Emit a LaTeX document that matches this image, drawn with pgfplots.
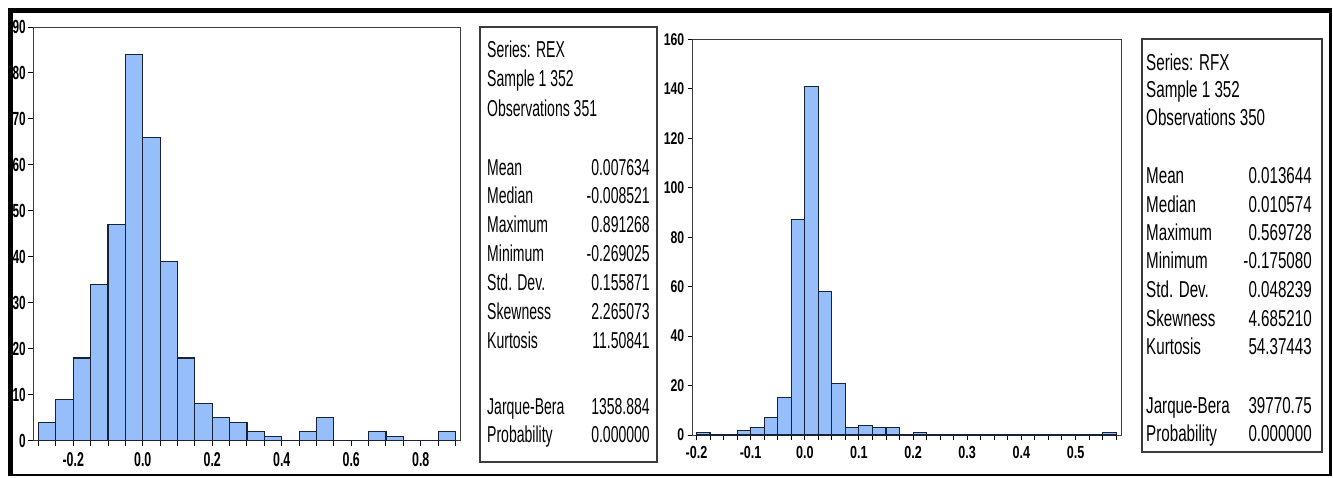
\documentclass[border=0pt]{standalone}
\usepackage{pgfplots}
\pgfplotsset{compat=1.18}
\usepackage{fontspec}
\setmainfont{Liberation Sans}
\newfontfamily\statsLfont[FakeStretch=0.61]{Liberation Sans}
\newfontfamily\statsRfont[FakeStretch=0.66]{Liberation Sans}
\newfontfamily\tickLfont[FakeStretch=0.62]{Liberation Sans}
\newfontfamily\tickRfont[FakeStretch=0.72]{Liberation Sans}
\definecolor{barfill}{RGB}{150,190,250}
\definecolor{baredge}{RGB}{25,35,55}
\definecolor{framecol}{RGB}{60,60,60}

\pgfplotsset{
  histo/.style={
    scale only axis,
    anchor=north west,
    tick pos=left,
    tick align=outside,
    major tick length=5pt,
    minor tick length=5pt,
    tick style={black, line width=1pt},
    axis line style={framecol, line width=1pt},
  },
}

\begin{document}
\begin{tikzpicture}
\fill[white] (0,0) rectangle (1333pt,-477pt);
\path[use as bounding box] (0,0) rectangle (1333pt,-477pt);

% ---------- left histogram (REX) ----------
\begin{axis}[histo,
  width=426.7pt, height=413.7pt, at={(33.3pt,-27pt)},
  xmin=-0.315, xmax=0.913, ymin=0, ymax=90,
  xtick={-0.2,0,0.2,0.4,0.6,0.8},
  xticklabels={-0.2,0.0,0.2,0.4,0.6,0.8},
  minor xtick={-0.3,-0.25,-0.15,-0.1,-0.05,0.05,0.1,0.15,0.25,0.3,0.35,0.45,0.5,0.55,0.65,0.7,0.75,0.85,0.9},
  ytick={0,10,20,30,40,50,60,70,80,90},
  yticklabels={0,10,20,30,40,50,60,70,80,90},
  xticklabel style={font=\tickLfont\bfseries\fontsize{20}{20}\selectfont, yshift=-3pt},
  yticklabel style={font=\tickLfont\bfseries\fontsize{19}{19}\selectfont, xshift=1pt},
]
\addplot[ybar interval, fill=barfill, draw=baredge, line width=1.1pt] coordinates {
(-0.30,4) (-0.25,9) (-0.20,18) (-0.15,34) (-0.10,47) (-0.05,84)
(0.00,66) (0.05,39) (0.10,18) (0.15,8) (0.20,5) (0.25,4)
(0.30,2) (0.35,1) (0.40,0) (0.45,2) (0.50,5) (0.55,0)
(0.60,0) (0.65,2) (0.70,1) (0.75,0) (0.80,0) (0.85,2) (0.90,0)
};
\end{axis}

% ---------- right histogram (RFX) ----------
\begin{axis}[histo,
  width=428.3pt, height=395.7pt, at={(692.7pt,-39.3pt)},
  xmin=-0.207, xmax=0.584, ymin=0, ymax=160,
  xtick={-0.2,-0.1,0,0.1,0.2,0.3,0.4,0.5},
  xticklabels={-0.2,-0.1,0.0,0.1,0.2,0.3,0.4,0.5},
  minor xtick={-0.175,-0.15,-0.125,-0.075,-0.05,-0.025,0.025,0.05,0.075,0.125,0.15,0.175,0.225,0.25,0.275,0.325,0.35,0.375,0.425,0.45,0.475,0.525,0.55,0.575},
  ytick={0,20,40,60,80,100,120,140,160},
  yticklabels={0,20,40,60,80,100,120,140,160},
  xticklabel style={font=\tickRfont\bfseries\fontsize{17.5}{17.5}\selectfont, yshift=-3pt},
  yticklabel style={font=\tickRfont\bfseries\fontsize{17}{17}\selectfont},
]
\addplot[ybar interval, fill=barfill, draw=baredge, line width=1.1pt] coordinates {
(-0.200,1) (-0.175,0) (-0.150,0) (-0.125,2) (-0.100,3) (-0.075,7)
(-0.050,15) (-0.025,87) (0.000,141) (0.025,58) (0.050,21) (0.075,3)
(0.100,4) (0.125,3) (0.150,3) (0.175,0) (0.200,1) (0.225,0)
(0.250,0) (0.275,0) (0.300,0) (0.325,0) (0.350,0) (0.375,0)
(0.400,0) (0.425,0) (0.450,0) (0.475,0) (0.500,0) (0.525,0)
(0.550,1) (0.575,0)
};
\end{axis}

% ---------- left statistics box ----------
\draw[framecol, line width=1.2pt] (480pt,-27pt) rectangle (657pt,-462pt);
\begin{scope}[every node/.style={inner sep=0pt, font=\statsLfont\fontsize{23}{23}\selectfont}]
\node[anchor=base west] at (487pt,-57pt) {Series: REX};
\node[anchor=base west] at (487pt,-86pt) {Sample 1 352};
\node[anchor=base west] at (487pt,-116pt) {Observations 351};
\node[anchor=base west] at (487pt,-175pt) {Mean};
\node[anchor=base east] at (650pt,-175pt) {0.007634};
\node[anchor=base west] at (487pt,-203.5pt) {Median};
\node[anchor=base east] at (650pt,-203.5pt) {-0.008521};
\node[anchor=base west] at (487pt,-232pt) {Maximum};
\node[anchor=base east] at (650pt,-232pt) {0.891268};
\node[anchor=base west] at (487pt,-261pt) {Minimum};
\node[anchor=base east] at (650pt,-261pt) {-0.269025};
\node[anchor=base west] at (487pt,-290pt) {Std. Dev.};
\node[anchor=base east] at (650pt,-290pt) {0.155871};
\node[anchor=base west] at (487pt,-319pt) {Skewness};
\node[anchor=base east] at (650pt,-319pt) {2.265073};
\node[anchor=base west] at (487pt,-348pt) {Kurtosis};
\node[anchor=base east] at (650pt,-348pt) {11.50841};
\node[anchor=base west] at (487pt,-414pt) {Jarque-Bera};
\node[anchor=base east] at (650pt,-414pt) {1358.884};
\node[anchor=base west] at (487pt,-442pt) {Probability};
\node[anchor=base east] at (650pt,-442pt) {0.000000};
\end{scope}

% ---------- right statistics box ----------
\draw[framecol, line width=1.2pt] (1142pt,-39pt) rectangle (1322pt,-452pt);
\begin{scope}[every node/.style={inner sep=0pt, font=\statsRfont\fontsize{23}{23}\selectfont}]
\node[anchor=base west] at (1146pt,-70pt) {Series: RFX};
\node[anchor=base west] at (1146pt,-97pt) {Sample 1 352};
\node[anchor=base west] at (1146pt,-125pt) {Observations 350};
\node[anchor=base west] at (1146pt,-183pt) {Mean};
\node[anchor=base east] at (1312pt,-183pt) {0.013644};
\node[anchor=base west] at (1146pt,-212pt) {Median};
\node[anchor=base east] at (1312pt,-212pt) {0.010574};
\node[anchor=base west] at (1146pt,-240pt) {Maximum};
\node[anchor=base east] at (1312pt,-240pt) {0.569728};
\node[anchor=base west] at (1146pt,-268pt) {Minimum};
\node[anchor=base east] at (1312pt,-268pt) {-0.175080};
\node[anchor=base west] at (1146pt,-297pt) {Std. Dev.};
\node[anchor=base east] at (1312pt,-297pt) {0.048239};
\node[anchor=base west] at (1146pt,-326pt) {Skewness};
\node[anchor=base east] at (1312pt,-326pt) {4.685210};
\node[anchor=base west] at (1146pt,-354pt) {Kurtosis};
\node[anchor=base east] at (1312pt,-354pt) {54.37443};
\node[anchor=base west] at (1146pt,-413pt) {Jarque-Bera};
\node[anchor=base east] at (1312pt,-413pt) {39770.75};
\node[anchor=base west] at (1146pt,-441pt) {Probability};
\node[anchor=base east] at (1312pt,-441pt) {0.000000};
\end{scope}

% ---------- outer border (drawn last, covers label edges) ----------
\draw[black, line width=5pt] (8pt,-10.5pt) -- (1332pt,-10.5pt);
\draw[black, line width=5pt] (10.5pt,-8pt) -- (10.5pt,-476pt);
\draw[black, line width=3pt] (1330pt,-8pt) -- (1330pt,-476pt);
\draw[black, line width=2pt] (8pt,-475pt) -- (1332pt,-475pt);
\end{tikzpicture}
\end{document}
